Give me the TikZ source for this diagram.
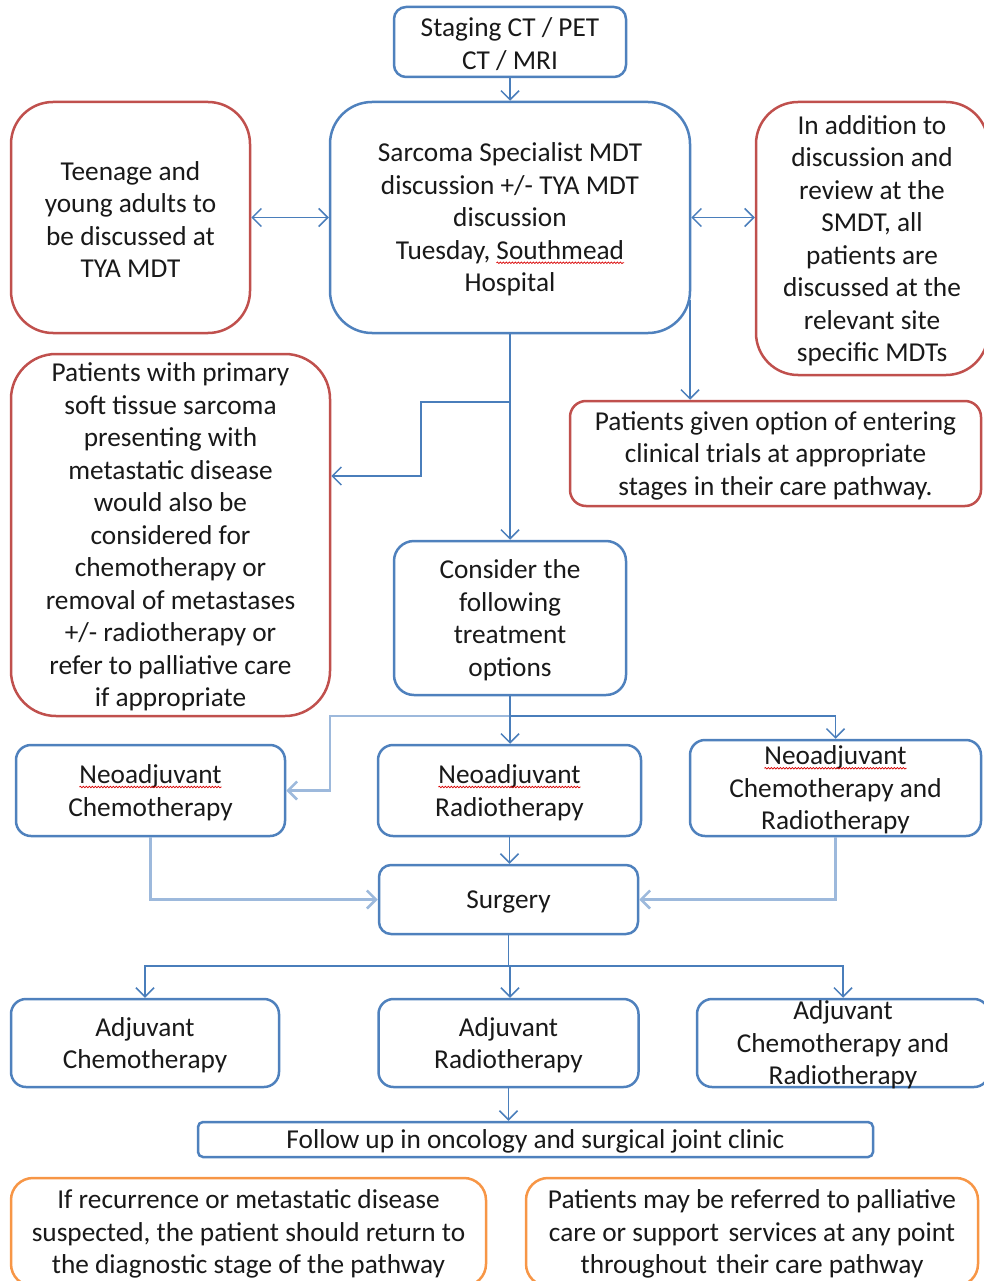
\documentclass[tikz,border=0pt]{standalone}
\usepackage{fontspec}
\setmainfont{Carlito}
\usetikzlibrary{arrows.meta,decorations.pathmorphing}
\definecolor{bblue}{HTML}{4F81BD}
\definecolor{bred}{HTML}{C0504D}
\definecolor{borange}{HTML}{F79646}
\definecolor{cblue}{HTML}{4A7EBB}
\definecolor{lblue}{HTML}{9DB9DC}
\newcommand\squig[1]{\tikz[baseline=(w.base)]{\node[inner sep=0pt,outer sep=0pt](w){#1};\draw[overlay,red!85!black,line width=0.7pt,decorate,decoration={snake,amplitude=0.8pt,segment length=3pt}]([yshift=-3.5pt]w.base west)--([yshift=-3.5pt]w.base east);}}
\tikzset{
  bx/.style={draw=bblue, line width=2.5pt, rectangle, inner sep=0pt, fill=white},
  rbx/.style={bx, draw=bred},
  obx/.style={bx, draw=borange},
  txt/.style={font=\fontsize{27.3}{32.5}\selectfont, align=center, inner sep=0pt, text=black!90, yshift=-2pt},
  conn/.style={draw=cblue, line width=1.5pt},
  lconn/.style={draw=lblue, line width=2.5pt},
  >={Straight Barb[length=9pt,width=18pt]}
}
\begin{document}
\begin{tikzpicture}[x=1pt,y=-1pt]
\useasboundingbox (0,0) rectangle (983,1281);
% boxes
\node[bx, rounded corners=12pt, minimum width=232pt, minimum height=70pt] (stag) at (510,42) {};
\node[bx, rounded corners=42pt, minimum width=360pt, minimum height=231pt] (mdt) at (510,217.5) {};
\node[rbx, rounded corners=42pt, minimum width=239pt, minimum height=231pt] (tya) at (130.5,217.5) {};
\node[rbx, rounded corners=42pt, minimum width=232pt, minimum height=273pt] (add) at (872,238.5) {};
\node[rbx, rounded corners=16pt, minimum width=411pt, minimum height=105pt] (trial) at (775.5,453.5) {};
\node[rbx, rounded corners=45pt, minimum width=319pt, minimum height=362pt] (meta) at (170.5,535) {};
\node[bx, rounded corners=20pt, minimum width=232pt, minimum height=154pt] (cons) at (510,618) {};
\node[bx, rounded corners=15pt, minimum width=269pt, minimum height=91pt] (nc) at (150.5,790.5) {};
\node[bx, rounded corners=15pt, minimum width=263pt, minimum height=91pt] (nr) at (509.5,790.5) {};
\node[bx, rounded corners=15pt, minimum width=291pt, minimum height=96pt] (ncr) at (835.5,788) {};
\node[bx, rounded corners=12pt, minimum width=259pt, minimum height=69pt] (surg) at (508.5,899.5) {};
\node[bx, rounded corners=15pt, minimum width=268pt, minimum height=88pt] (ac) at (145,1043) {};
\node[bx, rounded corners=15pt, minimum width=260pt, minimum height=88pt] (ar) at (508.5,1043) {};
\node[bx, rounded corners=15pt, minimum width=292pt, minimum height=88pt] (acr) at (843,1043) {};
\node[bx, rounded corners=5pt, minimum width=675pt, minimum height=35pt] (fu) at (535.5,1139.5) {};
\node[obx, rounded corners=22pt, minimum width=475pt, minimum height=108pt] (o1) at (248.5,1232) {};
\node[obx, rounded corners=22pt, minimum width=452pt, minimum height=108pt] (o2) at (752,1232) {};
% texts
\node[txt] at (stag) {Staging CT / PET\\CT / MRI};
\node[txt] at (mdt) {Sarcoma Specialist MDT\\discussion +/- TYA MDT\\discussion\\Tuesday, \squig{Southmead}\\Hospital};
\node[txt] at (tya) {Teenage and\\young adults to\\be discussed at\\TYA MDT};
\node[txt] at (add) {In addition to\\discussion and\\review at the\\SMDT, all\\patients are\\discussed at the\\relevant site\\specific MDTs};
\node[txt] at (trial) {Patients given option of entering\\clinical trials at appropriate\\stages in their care pathway.};
\node[txt] at (meta) {Patients with primary\\soft tissue sarcoma\\presenting with\\metastatic disease\\would also be\\considered for\\chemotherapy or\\removal of metastases\\+/- radiotherapy or\\refer to palliative care\\if appropriate};
\node[txt] at (cons) {Consider the\\following\\treatment\\options};
\node[txt] at (nc) {\squig{Neoadjuvant}\\Chemotherapy};
\node[txt] at (nr) {\squig{Neoadjuvant}\\Radiotherapy};
\node[txt] at (ncr) {\squig{Neoadjuvant}\\Chemotherapy and\\Radiotherapy};
\node[txt] at (surg) {Surgery};
\node[txt] at (ac) {Adjuvant\\Chemotherapy};
\node[txt] at (ar) {Adjuvant\\Radiotherapy};
\node[txt] at (acr) {Adjuvant\\Chemotherapy and\\Radiotherapy};
\node[txt] at (fu) {Follow up in oncology and surgical joint clinic};
\node[txt] at (o1) {If recurrence or metastatic disease\\suspected, the patient should return to\\the diagnostic stage of the pathway};
\node[txt] at (o2) {Patients may be referred to palliative\\care or support\hspace{0.12em} services at any point\\throughout\hspace{0.12em} their care pathway};
% connectors
\coordinate (m1) at (690,300);
\coordinate (b1) at (510,402);
\coordinate (j1) at (510,716);
\coordinate (j2) at (510,966);
\draw[conn,->] (stag.south) -- (stag.south |- mdt.north);
\draw[conn,<->] (tya.east) -- (mdt.west);
\draw[conn,<->] (mdt.east) -- (mdt.east -| add.west);
\draw[conn,->] (m1) -- (m1 |- trial.north);
\draw[conn,->] (mdt.south) -- (cons.north);
\draw[conn,->] (b1) -- (421,402) -- (421,476) -- ([yshift=59pt]meta.east);
\draw[lconn,->] (j1) -- (330,716) |- (nc.east);
\draw[conn] (cons.south) -- (j1);
\draw[conn,->] (j1) -- (j1 |- nr.north);
\draw[conn,->] (j1) -| (ncr.north);
\draw[lconn,->] (nc.south) |- (surg.west);
\draw[lconn,->] (ncr.south) |- (surg.east);
\draw[conn,->] (nr.south) -- (nr.south |- surg.north);
\draw[conn] (surg.south) -- (surg.south |- j2);
\draw[conn,->] (j2) -| (ac.north);
\draw[conn,->] (j2) -| (acr.north);
\draw[conn,->] (j2) -- (j2 |- ar.north);
\draw[conn,->] (ar.south) -- (ar.south |- fu.north);
\end{tikzpicture}
\end{document}
